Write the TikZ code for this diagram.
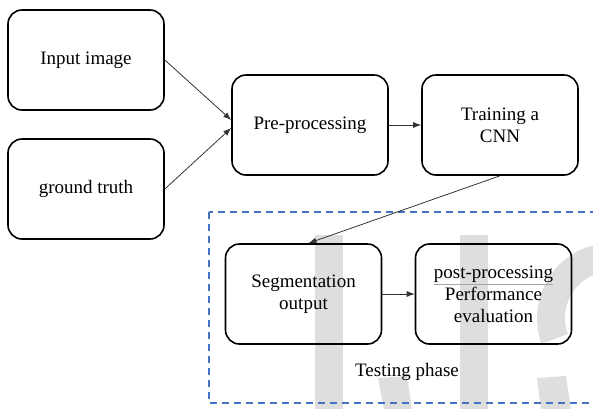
\documentclass[tikz,border=0pt]{standalone}
\usepackage{fontspec}
\setmainfont{Liberation Serif}
\usetikzlibrary{arrows.meta}

\definecolor{wmark}{RGB}{222,222,222}
\definecolor{testblue}{RGB}{68,114,196}
\newcommand{\grayline}[1]{\mbox{\color{black!35}\underline{\color{black}#1}}}

\begin{document}
\begin{tikzpicture}
      [x=1pt,y=-1pt,every node/.style={font=\rmfamily\fontsize{19}{22}\selectfont},
       box/.style={draw,line width=1.6pt,rounded corners=14pt,minimum width=156pt,
                   minimum height=100pt,align=center,inner sep=0pt},
       arr/.style={-{Latex[length=8pt,width=6pt]},line width=0.8pt,black!80}]
	\useasboundingbox (0,0) rectangle (593,408);
	\clip (0,0) rectangle (593,408);

	% watermark behind everything
	\fill[wmark] (315,235) rectangle (343,410);
	\fill[wmark] (460,235) rectangle (488,410);
	\fill[wmark] (378,378) -- (407,376) -- (412,410) -- (384,410) -- cycle;
	\fill[wmark] (612,318) ++(270:75) arc[start angle=270,end angle=160,radius=75]
	  -- (567.8,334.1) arc[start angle=160,end angle=270,radius=47] -- cycle;
	\fill[wmark] (537,378) -- (566,376) -- (571,410) -- (541,410) -- cycle;

	\node (inp)  [box] at (86,60)    {Input image};
	\node (gt)   [box] at (86,189)   {ground truth};
	\node (pre)  [box] at (310,125)  {Pre-processing};
	\node (cnn)  [box] at (500,125)  {Training a\\CNN};
	\node (seg)  [box] at (303.5,294) {Segmentation\\output};
	\node (post) [box] at (493.5,294) {\grayline{post-processing}\\Performance\\evaluation};
	\node (test)       at (407,372)  {Testing phase};

	\draw[testblue,line width=1.6pt,dash pattern=on 7pt off 5pt] (209,212) rectangle (620,403);

	\draw[arr] (inp.east) -- ([yshift=5pt]pre.west);
	\draw[arr] (gt.east) -- ([yshift=-3pt]pre.west);
	\draw[arr] (cnn.south) -- ([xshift=5pt]seg.north);
	\foreach \from/\to in {pre/cnn,seg/post}
	  \draw[arr] (\from) -- (\to);
      \end{tikzpicture}
\end{document}
